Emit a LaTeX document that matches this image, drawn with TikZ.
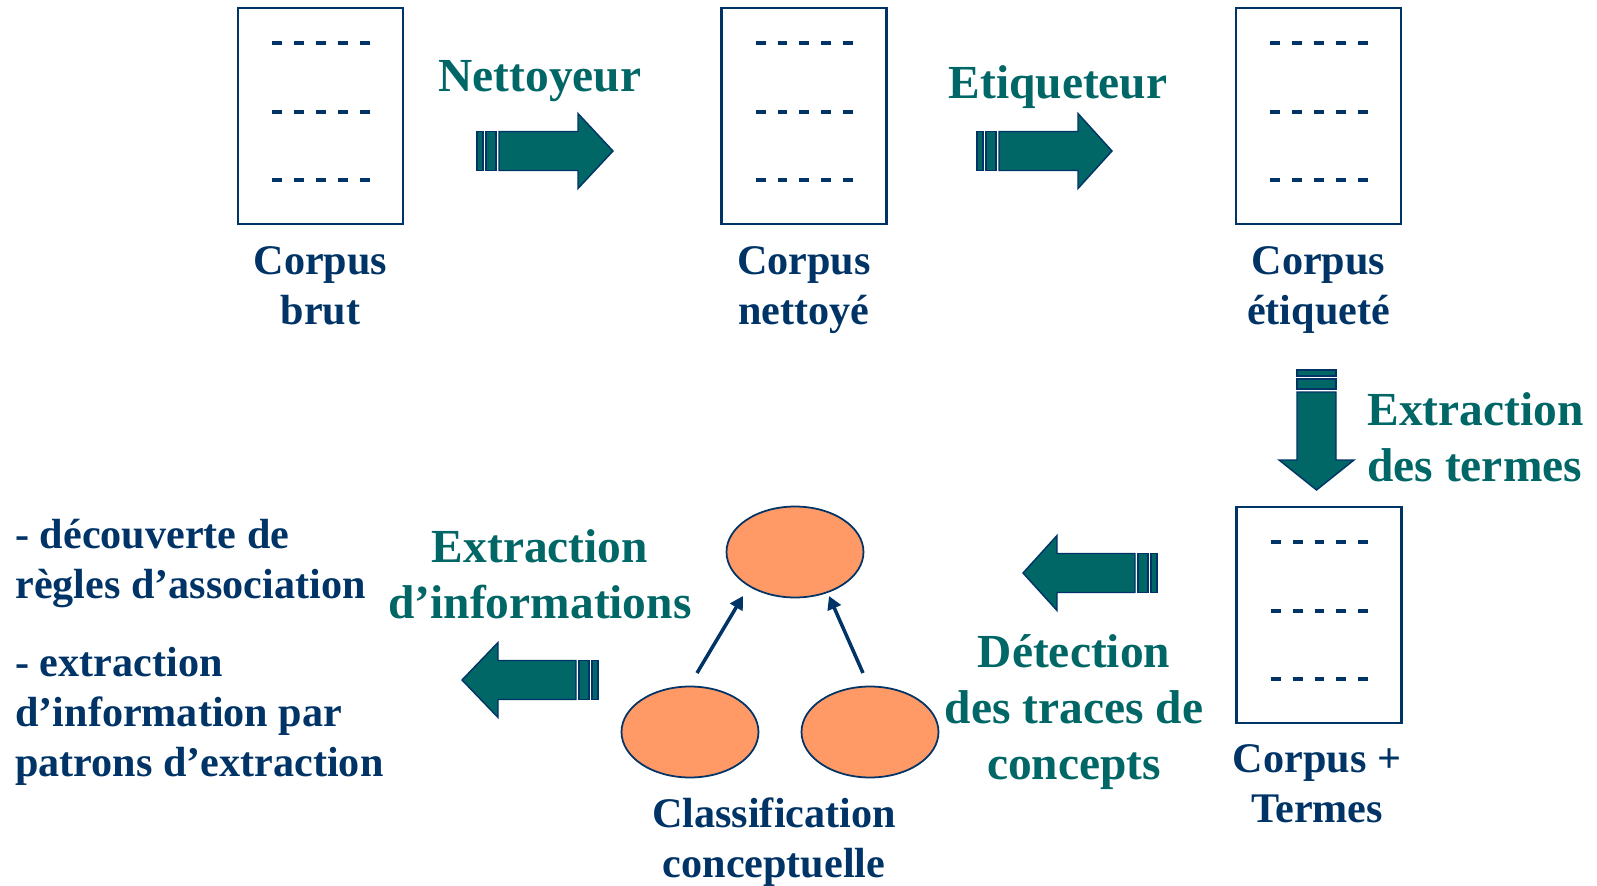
\documentclass[tikz,border=0pt]{standalone}
\usepackage{fontspec}
\setmainfont{Liberation Serif}
\usetikzlibrary{calc,arrows.meta,shapes.geometric}
\definecolor{navy}{RGB}{0,51,102}
\definecolor{tealc}{RGB}{0,102,102}
\definecolor{salmon}{RGB}{255,153,102}
\newcommand\barrow[5]{%
  \begin{scope}[shift={(#1,#2)}, rotate=#3]
    \draw[blockarrow] (0,-19.5) rectangle (6,19.5);
    \draw[blockarrow] (9,-19.5) rectangle (19,19.5);
    \draw[blockarrow] (22,-19.5) -- (#4,-19.5) -- (#4,-37.5) -- (#5,0) -- (#4,37.5) -- (#4,19.5) -- (22,19.5) -- cycle;
  \end{scope}}
\begin{document}
\begin{tikzpicture}[x=0.02cm,y=-0.02cm,
  blockarrow/.style={fill=tealc, draw=navy, line width=0.8pt, line join=miter},
  doc/.style={draw=navy, line width=1.3pt, minimum width=3.3cm, minimum height=4.32cm, inner sep=0pt,
    path picture={
      \foreach \dy in {-73,-4,64}
        \draw[navy, line width=2.3pt, dash pattern=on 0.2cm off 0.24cm]
          ($(path picture bounding box.center)+(-48.5,\dy)$) -- ++(98,0);
    }},
  blob/.style={ellipse, draw=navy, line width=1pt, fill=salmon, minimum width=2.74cm, minimum height=1.82cm, inner sep=0pt},
  conn/.style={draw=navy, line width=2pt, -{Triangle[length=7.5pt,width=8pt]}},
  navytxt/.style={text=navy, font=\fontsize{24}{28.5}\selectfont\bfseries, inner sep=0pt, anchor=north, align=center},
  tealtxt/.style={text=tealc, font=\fontsize{27}{32}\selectfont\bfseries, inner sep=0pt, anchor=north, align=center}
]
\useasboundingbox (0,0) rectangle (1597,886);

% documents
\node[doc] (c1) at (320.5,116) {};
\node[doc] (c2) at (804,116) {};
\node[doc] (c3) at (1318.5,116) {};
\node[doc] (c4) at (1319,615) {};

% document labels
\node[navytxt] (l1) at (320.5,239) {\strut Corpus\\\strut brut};
\node[navytxt] (l2) at (804,239) {\strut Corpus\\\strut nettoyé};
\node[navytxt] (l3) at (1318.5,239) {\strut Corpus\\\strut étiqueté};
\node[navytxt] (l4) at (1317,737) {\strut Corpus +\\\strut Termes};

% block arrows
\barrow{477}{151}{0}{101}{136}
\barrow{977}{151}{0}{101}{135}
\barrow{1316.5}{370}{-90}{90}{120}
\barrow{1157}{573}{180}{100}{134}
\barrow{598}{680}{180}{100}{136}

% step labels
\node[tealtxt] (t1) at (540,51.6) {\strut Nettoyeur};
\node[tealtxt] (t2) at (1058,58.6) {\strut Etiqueteur};
\node[tealtxt, anchor=north west, align=left] (t3) at (1367,385.6) {\strut Extraction\\\strut des termes};
\node[tealtxt] (t4) at (1074,627.6) {\strut Détection\\\strut des traces de\\\strut concepts};
\node[tealtxt] (t5) at (540,522.6) {\strut Extraction\\\strut d’informations};

% classification
\node[blob] (top) at (795,552) {};
\node[blob] (bl) at (690,732) {};
\node[blob] (br) at (870,732) {};
\draw[conn] ($(bl.center)+(7,-59)$) -- ($(top.center)+(-52,44)$);
\draw[conn] ($(br.center)+(-7,-59)$) -- ($(top.center)+(34,44)$);
\node[navytxt] (cl) at (774,792) {\strut Classification\\\strut conceptuelle};

% results
\node[navytxt, anchor=north west, align=left] (r1) at (15,513) {\strut - découverte de\\\strut règles d’association};
\node[navytxt, anchor=north west, align=left] (r2) at (15,641) {\strut - extraction\\\strut d’information par\\\strut patrons d’extraction};
\end{tikzpicture}
\end{document}
